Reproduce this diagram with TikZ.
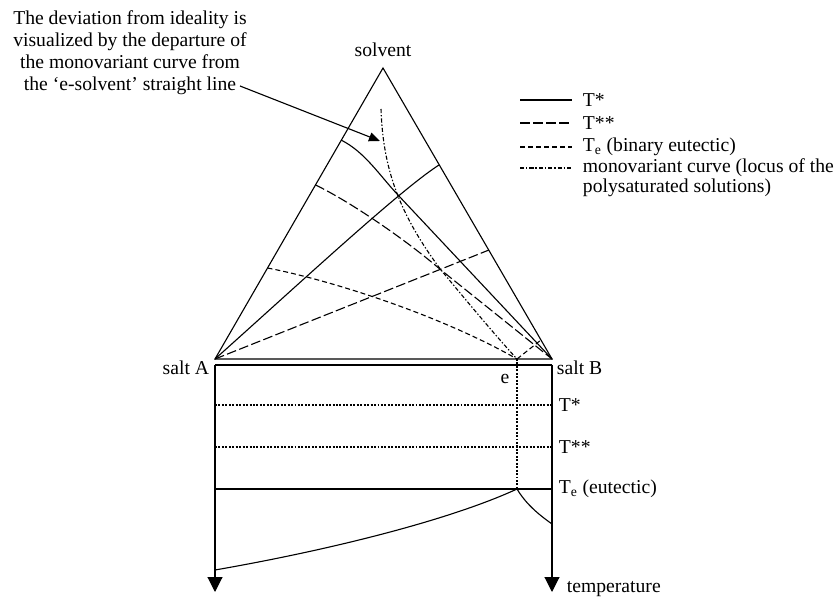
\documentclass[tikz,border=0pt,12pt]{standalone}
\usepackage{fontspec}
\setmainfont{Liberation Serif}
\usetikzlibrary{arrows.meta,positioning}

\begin{document}
\begin{tikzpicture}[
    x=0.723pt,y=-0.723pt,
    line width=0.8pt,
    tstar/.style={line width=0.8pt},
    tsstar/.style={line width=0.8pt,dash pattern=on 7pt off 2.4pt},
    teut/.style={line width=0.8pt,dash pattern=on 3.6pt off 2.2pt},
    mono/.style={line width=0.8pt,dash pattern=on 3pt off 1.4pt on 1pt off 1.4pt},
    dots/.style={line width=1pt,dash pattern=on 1.4pt off 1.1pt},
    axis/.style={-{Triangle[width=10.8pt,length=10.8pt]}},
    pointer/.style={-{Triangle[width=6.5pt,length=8pt]}},
    lab/.style={inner sep=1pt,font=\fontsize{14.2}{15.9}\selectfont}
  ]
  \useasboundingbox (0,0) rectangle (838,597);
  %% Ternary triangle
  \coordinate (solv) at (383,68);
  \coordinate (sA)   at (215,359);
  \coordinate (sB)   at (552,359);
  \coordinate (e)    at (517,359);
  \draw (sA) -- (solv) -- (sB) -- cycle;
  %% Isotherm T*
  \draw[tstar] (341,140) .. controls (365,152) and (380,176) .. (398,195) -- (sB);
  \draw[tstar] (sA) .. controls (300,283) and (400,190) .. (439,165);
  %% Isotherm T**
  \draw[tsstar] (315.5,185) .. controls (345,199) and (400,235) .. (441,270) -- (sB);
  \draw[tsstar] (sA) -- (489,250);
  %% Isotherm Te
  \draw[teut] (267.5,268) .. controls (330,280) and (440,315) .. (e);
  \draw[teut] (e) -- (541,340);
  %% Monovariant curve
  \draw[mono] (381,109) .. controls (383,170) and (400,215) .. (441,270)
              .. controls (470,305) and (495,335) .. (e);
  %% Binary diagram A-B (below)
  \coordinate (axA)  at (215,365);
  \coordinate (axB)  at (552,365);
  \coordinate (endA) at (215,592);
  \coordinate (endB) at (552,592);
  \coordinate (eut)  at (517,489);
  \draw (axA) -- (axB);
  \draw[axis] (axA) -- (endA);
  \draw[axis] (axB) -- (endB);
  \draw[dots] (215,405) -- (552,405);
  \draw[dots] (215,447) -- (552,447);
  \draw (215,489) -- (552,489);
  \draw[dots] (e) -- (eut);
  \draw (215,570) .. controls (330,550) and (450,520) .. (eut);
  \draw (eut) .. controls (526,504) and (538,514) .. (552,524);
  %% Corner and axis labels
  \node[lab] (solvlab) at (383,50) {solvent};
  \node[lab,anchor=east] (salta) at (211,368) {salt A};
  \node[lab,anchor=west] (saltb) at (555,368) {salt B};
  \node[lab] (elab) at (505,379) {e};
  \node[lab,anchor=west] (tst)  at (557,405) {T*};
  \node[lab,anchor=west] (tsst) at (557,447) {T**};
  \node[lab,anchor=west] (teu)  at (557,489) {T\textsubscript{e} (eutectic)};
  \node[lab,anchor=west] (temp) at (565,589) {temperature};
  %% Legend
  \draw[tstar]  (520,100) -- (572,100);
  \draw[tsstar] (520,123) -- (572,123);
  \draw[teut]   (520,147) -- (572,147);
  \draw[mono]   (520,168) -- (572,168);
  \node[lab,anchor=west] (lg1) at (581,100) {T*};
  \node[lab,anchor=west] (lg2) at (581,123) {T**};
  \node[lab,anchor=west] (lg3) at (581,147) {T\textsubscript{e} (binary eutectic)};
  \node[lab,anchor=west,align=left,font=\fontsize{14.2}{14.5}\selectfont] (lg4) at (581,178)
    {monovariant curve (locus of the\\polysaturated solutions)};
  %% Note with pointer
  \node[lab,align=center] (note) at (130,53)
    {The deviation from ideality is\\visualized by the departure of\\the monovariant curve from\\the `e-solvent' straight line};
  \coordinate (ptrstart) at (240,86);
  \coordinate (ptr) at (380,141);
  \draw[pointer] (ptrstart) -- (ptr);
\end{tikzpicture}
\end{document}
